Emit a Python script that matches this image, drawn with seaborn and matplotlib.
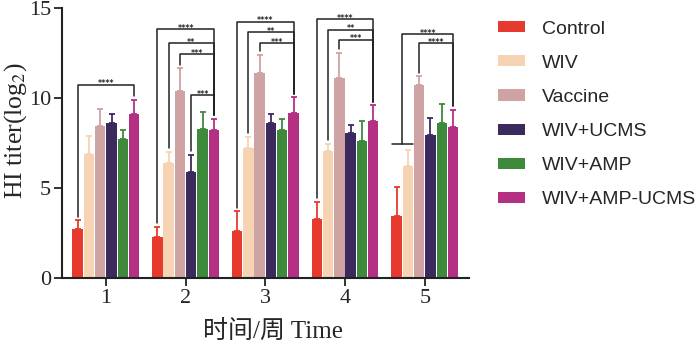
import numpy as np
import pandas as pd
import matplotlib
matplotlib.use("Agg")
import matplotlib.pyplot as plt
import seaborn as sns

# ---- data ----
weeks = ["1", "2", "3", "4", "5"]
groups = ["Control", "WIV", "Vaccine", "WIV+UCMS", "WIV+AMP", "WIV+AMP-UCMS"]
control = [2.7, 2.3, 2.6, 3.3, 3.45]
wiv = [6.9, 6.4, 7.25, 7.05, 6.2]
vaccine = [8.45, 10.4, 11.4, 11.1, 10.7]
wiv_ucms = [8.6, 5.9, 8.6, 8.05, 7.95]
wiv_amp = [7.7, 8.3, 8.25, 7.6, 8.6]
wiv_amp_ucms = [9.1, 8.25, 9.15, 8.7, 8.4]

control_err = [0.5, 0.55, 1.1, 0.95, 1.6]
wiv_err = [1.0, 0.6, 0.6, 0.4, 0.9]
vaccine_err = [0.95, 1.25, 1.0, 1.4, 0.5]
wiv_ucms_err = [0.5, 0.95, 0.5, 0.45, 0.95]
wiv_amp_err = [0.5, 0.95, 0.6, 1.1, 1.05]
wiv_amp_ucms_err = [0.8, 0.6, 0.9, 0.9, 0.95]

colors = ["#e53a2d", "#f6d3b3", "#cfa3a3", "#3c2a5e", "#3d8a3c", "#b33083"]

# significance brackets: (week index, left group index(es), right group index, level, label)
brackets = [
    (0, [0], 5, 10.73, "****"),
    (1, [0], 5, 13.81, "****"),
    (1, [1], 5, 13.05, "**"),
    (1, [2], 5, 12.44, "***"),
    (1, [3], 5, 10.17, "***"),
    (2, [0], 5, 14.25, "****"),
    (2, [1], 5, 13.64, "**"),
    (2, [2], 5, 13.05, "***"),
    (3, [0], 5, 14.39, "****"),
    (3, [1], 5, 13.79, "**"),
    (3, [2], 5, 13.23, "***"),
    (4, [0, 1], 5, 13.56, "****"),
    (4, [2], 5, 13.04, "****"),
]

means = [control, wiv, vaccine, wiv_ucms, wiv_amp, wiv_amp_ucms]
errs = [control_err, wiv_err, vaccine_err, wiv_ucms_err, wiv_amp_err, wiv_amp_ucms_err]

rows = []
for g, m, e in zip(groups, means, errs):
    for w, v, s in zip(weeks, m, e):
        rows.append({"Week": w, "Group": g, "Value": v, "Err": s})
df = pd.DataFrame(rows)

sns.set_style("ticks")
plt.rcParams["font.family"] = ["Liberation Serif", "Noto Sans CJK SC"]
plt.rcParams["mathtext.fontset"] = "stix"

fig = plt.figure(figsize=(7.0, 3.48), dpi=100)
ax = fig.add_axes([0.0886, 0.201, 0.582, 0.776])

sns.barplot(data=df, x="Week", y="Value", hue="Group", order=weeks, hue_order=groups,
            palette=colors, width=0.85, gap=0.08, errorbar=None, saturation=1,
            edgecolor="none", ax=ax, legend=True)

# map bar positions
centers = {}
tops = {}
patches = [p for p in ax.patches if p.get_height() > 0]
i = 0
for gi, g in enumerate(groups):
    for wi, w in enumerate(weeks):
        p = patches[i]
        i += 1
        cx = p.get_x() + p.get_width() / 2
        centers[(wi, gi)] = cx
        tops[(wi, gi)] = errs[gi][wi] + means[gi][wi]
        ax.errorbar(cx, means[gi][wi], yerr=[[0], [errs[gi][wi]]], fmt="none",
                    ecolor=colors[gi], elinewidth=1.3, capsize=2.4, capthick=1.3, zorder=1)

# brackets
px = 15.0 / 270.0  # data units per pixel (approx.)
for wi, lefts, right, lvl, lab in brackets:
    xr = centers[(wi, right)]
    yr = tops[(wi, right)] + 0.2
    if len(lefts) == 1:
        xl = centers[(wi, lefts[0])]
        yl = tops[(wi, lefts[0])] + 0.2
        ax.plot([xl, xl, xr, xr], [yl, lvl, lvl, yr], color="#222222", lw=1.1,
                clip_on=False, zorder=5)
    else:
        xa = centers[(wi, lefts[0])]
        xb = centers[(wi, lefts[-1])]
        xl = (xa + xb) / 2
        yl = max(tops[(wi, k)] for k in lefts) + 0.35
        ax.plot([xl, xl, xr, xr], [yl, lvl, lvl, yr], color="#222222", lw=1.1,
                clip_on=False, zorder=5)
        ax.plot([xa - 0.06, xb + 0.06], [yl, yl], color="#222222", lw=1.1,
                clip_on=False, zorder=5)
    ax.text((xl + xr) / 2, lvl - 3.6 * px, lab, ha="center", va="bottom",
            fontsize=5.6, family="DejaVu Sans", fontweight="bold", color="#222222")

ax.set_xlim(-0.55, 4.56)
ax.set_ylim(0, 15)
ax.set_yticks([0, 5, 10, 15])
ax.set_xlabel("时间/周 Time", fontsize=18)
ax.xaxis.set_label_coords(0.517, -0.158)
ax.set_ylabel("HI titer(log$_2$)", fontsize=18.5)
ax.yaxis.set_label_coords(-0.08, 0.545)
ax.tick_params(axis="both", labelsize=16, width=1.3, length=6, color="#222222", pad=2)
for s in ["left", "bottom"]:
    ax.spines[s].set_linewidth(1.5)
    ax.spines[s].set_color("#222222")
sns.despine(ax=ax)

leg = ax.legend(loc="upper left", bbox_to_anchor=(1.05, 0.982), frameon=False,
                prop={"family": "Liberation Sans", "size": 14},
                handlelength=1.4, handleheight=0.5, labelspacing=0.88,
                handletextpad=0.9, borderaxespad=0)

fig.savefig("out.png", dpi=100)
